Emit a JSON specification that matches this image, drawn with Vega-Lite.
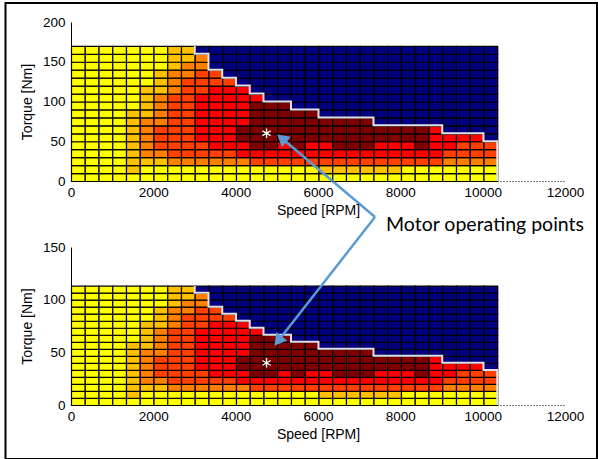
{
"$schema": "https://vega.github.io/schema/vega-lite/v6.json",
"autosize": {"type": "pad"},
"padding": {"left": 4, "top": 1, "right": 0, "bottom": 0},
"background": "#ffffff",
"spacing": 66,
"bounds": "flush",
"config": {
  "view": {"stroke": null},
  "axis": {"labelFont": "Liberation Sans", "labelFontSize": 13.5, "labelColor": "#000", "titleFont": "Liberation Sans", "titleFontSize": 14, "titleFontWeight": "normal", "titleColor": "#000", "ticks": false, "gridDash": [1, 3], "gridColor": "#000", "gridOpacity": 0.8, "domainColor": "#000", "labelFlush": false, "format": "d"}
},
"datasets": {
"cells": [
{"s":0,"a":0,"b":0,"c":"Y"},{"s":0,"a":10,"b":6.67,"c":"Y"},{"s":0,"a":20,"b":13.33,"c":"Y"},{"s":0,"a":30,"b":20,"c":"Y"},{"s":0,"a":40,"b":26.67,"c":"Y"},{"s":0,"a":50,"b":33.33,"c":"Y"},{"s":0,"a":60,"b":40,"c":"Y"},{"s":0,"a":70,"b":46.67,"c":"Y"},{"s":0,"a":80,"b":53.33,"c":"Y"},{"s":0,"a":90,"b":60,"c":"Y"},{"s":0,"a":100,"b":66.67,"c":"Y"},{"s":0,"a":110,"b":73.33,"c":"Y"},{"s":0,"a":120,"b":80,"c":"Y"},{"s":0,"a":130,"b":86.67,"c":"Y"},{"s":0,"a":140,"b":93.33,"c":"Y"},{"s":0,"a":150,"b":100,"c":"Y"},{"s":0,"a":160,"b":106.67,"c":"Y"},
{"s":334,"a":0,"b":0,"c":"Y"},{"s":334,"a":10,"b":6.67,"c":"Y"},{"s":334,"a":20,"b":13.33,"c":"Y"},{"s":334,"a":30,"b":20,"c":"Y"},{"s":334,"a":40,"b":26.67,"c":"Y"},{"s":334,"a":50,"b":33.33,"c":"Y"},{"s":334,"a":60,"b":40,"c":"Y"},{"s":334,"a":70,"b":46.67,"c":"Y"},{"s":334,"a":80,"b":53.33,"c":"Y"},{"s":334,"a":90,"b":60,"c":"Y"},{"s":334,"a":100,"b":66.67,"c":"Y"},{"s":334,"a":110,"b":73.33,"c":"Y"},{"s":334,"a":120,"b":80,"c":"Y"},{"s":334,"a":130,"b":86.67,"c":"Y"},{"s":334,"a":140,"b":93.33,"c":"Y"},{"s":334,"a":150,"b":100,"c":"Y"},{"s":334,"a":160,"b":106.67,"c":"Y"},
{"s":668,"a":0,"b":0,"c":"Y"},{"s":668,"a":10,"b":6.67,"c":"Y"},{"s":668,"a":20,"b":13.33,"c":"Y"},{"s":668,"a":30,"b":20,"c":"Y"},{"s":668,"a":40,"b":26.67,"c":"Y"},{"s":668,"a":50,"b":33.33,"c":"Y"},{"s":668,"a":60,"b":40,"c":"Y"},{"s":668,"a":70,"b":46.67,"c":"Y"},{"s":668,"a":80,"b":53.33,"c":"Y"},{"s":668,"a":90,"b":60,"c":"Y"},{"s":668,"a":100,"b":66.67,"c":"Y"},{"s":668,"a":110,"b":73.33,"c":"Y"},{"s":668,"a":120,"b":80,"c":"Y"},{"s":668,"a":130,"b":86.67,"c":"Y"},{"s":668,"a":140,"b":93.33,"c":"Y"},{"s":668,"a":150,"b":100,"c":"Y"},{"s":668,"a":160,"b":106.67,"c":"Y"},
{"s":1002,"a":0,"b":0,"c":"Y"},{"s":1002,"a":10,"b":6.67,"c":"Y"},{"s":1002,"a":20,"b":13.33,"c":"Y"},{"s":1002,"a":30,"b":20,"c":"Y"},{"s":1002,"a":40,"b":26.67,"c":"Y"},{"s":1002,"a":50,"b":33.33,"c":"Y"},{"s":1002,"a":60,"b":40,"c":"Y"},{"s":1002,"a":70,"b":46.67,"c":"Y"},{"s":1002,"a":80,"b":53.33,"c":"Y"},{"s":1002,"a":90,"b":60,"c":"Y"},{"s":1002,"a":100,"b":66.67,"c":"Y"},{"s":1002,"a":110,"b":73.33,"c":"Y"},{"s":1002,"a":120,"b":80,"c":"Y"},{"s":1002,"a":130,"b":86.67,"c":"Y"},{"s":1002,"a":140,"b":93.33,"c":"Y"},{"s":1002,"a":150,"b":100,"c":"Y"},{"s":1002,"a":160,"b":106.67,"c":"Y"},
{"s":1336,"a":0,"b":0,"c":"Y"},{"s":1336,"a":10,"b":6.67,"c":"A"},{"s":1336,"a":20,"b":13.33,"c":"A"},{"s":1336,"a":30,"b":20,"c":"A"},{"s":1336,"a":40,"b":26.67,"c":"A"},{"s":1336,"a":50,"b":33.33,"c":"A"},{"s":1336,"a":60,"b":40,"c":"A"},{"s":1336,"a":70,"b":46.67,"c":"A"},{"s":1336,"a":80,"b":53.33,"c":"A"},{"s":1336,"a":90,"b":60,"c":"Y"},{"s":1336,"a":100,"b":66.67,"c":"Y"},{"s":1336,"a":110,"b":73.33,"c":"Y"},{"s":1336,"a":120,"b":80,"c":"Y"},{"s":1336,"a":130,"b":86.67,"c":"Y"},{"s":1336,"a":140,"b":93.33,"c":"Y"},{"s":1336,"a":150,"b":100,"c":"Y"},{"s":1336,"a":160,"b":106.67,"c":"Y"},
{"s":1670,"a":0,"b":0,"c":"Y"},{"s":1670,"a":10,"b":6.67,"c":"Y"},{"s":1670,"a":20,"b":13.33,"c":"A"},{"s":1670,"a":30,"b":20,"c":"O"},{"s":1670,"a":40,"b":26.67,"c":"O"},{"s":1670,"a":50,"b":33.33,"c":"O"},{"s":1670,"a":60,"b":40,"c":"O"},{"s":1670,"a":70,"b":46.67,"c":"O"},{"s":1670,"a":80,"b":53.33,"c":"A"},{"s":1670,"a":90,"b":60,"c":"A"},{"s":1670,"a":100,"b":66.67,"c":"A"},{"s":1670,"a":110,"b":73.33,"c":"A"},{"s":1670,"a":120,"b":80,"c":"Y"},{"s":1670,"a":130,"b":86.67,"c":"Y"},{"s":1670,"a":140,"b":93.33,"c":"Y"},{"s":1670,"a":150,"b":100,"c":"Y"},{"s":1670,"a":160,"b":106.67,"c":"Y"},
{"s":2004,"a":0,"b":0,"c":"Y"},{"s":2004,"a":10,"b":6.67,"c":"Y"},{"s":2004,"a":20,"b":13.33,"c":"A"},{"s":2004,"a":30,"b":20,"c":"O"},{"s":2004,"a":40,"b":26.67,"c":"P"},{"s":2004,"a":50,"b":33.33,"c":"P"},{"s":2004,"a":60,"b":40,"c":"P"},{"s":2004,"a":70,"b":46.67,"c":"O"},{"s":2004,"a":80,"b":53.33,"c":"O"},{"s":2004,"a":90,"b":60,"c":"O"},{"s":2004,"a":100,"b":66.67,"c":"O"},{"s":2004,"a":110,"b":73.33,"c":"A"},{"s":2004,"a":120,"b":80,"c":"A"},{"s":2004,"a":130,"b":86.67,"c":"A"},{"s":2004,"a":140,"b":93.33,"c":"Y"},{"s":2004,"a":150,"b":100,"c":"Y"},{"s":2004,"a":160,"b":106.67,"c":"Y"},
{"s":2338,"a":0,"b":0,"c":"Y"},{"s":2338,"a":10,"b":6.67,"c":"Y"},{"s":2338,"a":20,"b":13.33,"c":"O"},{"s":2338,"a":30,"b":20,"c":"P"},{"s":2338,"a":40,"b":26.67,"c":"P"},{"s":2338,"a":50,"b":33.33,"c":"P"},{"s":2338,"a":60,"b":40,"c":"P"},{"s":2338,"a":70,"b":46.67,"c":"P"},{"s":2338,"a":80,"b":53.33,"c":"P"},{"s":2338,"a":90,"b":60,"c":"P"},{"s":2338,"a":100,"b":66.67,"c":"P"},{"s":2338,"a":110,"b":73.33,"c":"O"},{"s":2338,"a":120,"b":80,"c":"O"},{"s":2338,"a":130,"b":86.67,"c":"O"},{"s":2338,"a":140,"b":93.33,"c":"A"},{"s":2338,"a":150,"b":100,"c":"A"},{"s":2338,"a":160,"b":106.67,"c":"A"},
{"s":2672,"a":0,"b":0,"c":"Y"},{"s":2672,"a":10,"b":6.67,"c":"Y"},{"s":2672,"a":20,"b":13.33,"c":"O"},{"s":2672,"a":30,"b":20,"c":"P"},{"s":2672,"a":40,"b":26.67,"c":"P"},{"s":2672,"a":50,"b":33.33,"c":"P"},{"s":2672,"a":60,"b":40,"c":"P"},{"s":2672,"a":70,"b":46.67,"c":"P"},{"s":2672,"a":80,"b":53.33,"c":"P"},{"s":2672,"a":90,"b":60,"c":"P"},{"s":2672,"a":100,"b":66.67,"c":"P"},{"s":2672,"a":110,"b":73.33,"c":"P"},{"s":2672,"a":120,"b":80,"c":"P"},{"s":2672,"a":130,"b":86.67,"c":"O"},{"s":2672,"a":140,"b":93.33,"c":"O"},{"s":2672,"a":150,"b":100,"c":"A"},{"s":2672,"a":160,"b":106.67,"c":"A"},
{"s":3006,"a":0,"b":0,"c":"Y"},{"s":3006,"a":10,"b":6.67,"c":"Y"},{"s":3006,"a":20,"b":13.33,"c":"O"},{"s":3006,"a":30,"b":20,"c":"P"},{"s":3006,"a":40,"b":26.67,"c":"P"},{"s":3006,"a":50,"b":33.33,"c":"R"},{"s":3006,"a":60,"b":40,"c":"R"},{"s":3006,"a":70,"b":46.67,"c":"R"},{"s":3006,"a":80,"b":53.33,"c":"R"},{"s":3006,"a":90,"b":60,"c":"R"},{"s":3006,"a":100,"b":66.67,"c":"R"},{"s":3006,"a":110,"b":73.33,"c":"P"},{"s":3006,"a":120,"b":80,"c":"P"},{"s":3006,"a":130,"b":86.67,"c":"P"},{"s":3006,"a":140,"b":93.33,"c":"O"},{"s":3006,"a":150,"b":100,"c":"O"},{"s":3006,"a":160,"b":106.67,"c":"B"},
{"s":3340,"a":0,"b":0,"c":"Y"},{"s":3340,"a":10,"b":6.67,"c":"Y"},{"s":3340,"a":20,"b":13.33,"c":"O"},{"s":3340,"a":30,"b":20,"c":"P"},{"s":3340,"a":40,"b":26.67,"c":"R"},{"s":3340,"a":50,"b":33.33,"c":"R"},{"s":3340,"a":60,"b":40,"c":"R"},{"s":3340,"a":70,"b":46.67,"c":"R"},{"s":3340,"a":80,"b":53.33,"c":"R"},{"s":3340,"a":90,"b":60,"c":"R"},{"s":3340,"a":100,"b":66.67,"c":"R"},{"s":3340,"a":110,"b":73.33,"c":"R"},{"s":3340,"a":120,"b":80,"c":"P"},{"s":3340,"a":130,"b":86.67,"c":"P"},{"s":3340,"a":140,"b":93.33,"c":"B"},{"s":3340,"a":150,"b":100,"c":"B"},{"s":3340,"a":160,"b":106.67,"c":"B"},
{"s":3674,"a":0,"b":0,"c":"Y"},{"s":3674,"a":10,"b":6.67,"c":"Y"},{"s":3674,"a":20,"b":13.33,"c":"O"},{"s":3674,"a":30,"b":20,"c":"P"},{"s":3674,"a":40,"b":26.67,"c":"R"},{"s":3674,"a":50,"b":33.33,"c":"R"},{"s":3674,"a":60,"b":40,"c":"R"},{"s":3674,"a":70,"b":46.67,"c":"R"},{"s":3674,"a":80,"b":53.33,"c":"R"},{"s":3674,"a":90,"b":60,"c":"R"},{"s":3674,"a":100,"b":66.67,"c":"R"},{"s":3674,"a":110,"b":73.33,"c":"R"},{"s":3674,"a":120,"b":80,"c":"P"},{"s":3674,"a":130,"b":86.67,"c":"B"},{"s":3674,"a":140,"b":93.33,"c":"B"},{"s":3674,"a":150,"b":100,"c":"B"},{"s":3674,"a":160,"b":106.67,"c":"B"},
{"s":4008,"a":0,"b":0,"c":"Y"},{"s":4008,"a":10,"b":6.67,"c":"Y"},{"s":4008,"a":20,"b":13.33,"c":"O"},{"s":4008,"a":30,"b":20,"c":"R"},{"s":4008,"a":40,"b":26.67,"c":"R"},{"s":4008,"a":50,"b":33.33,"c":"D"},{"s":4008,"a":60,"b":40,"c":"D"},{"s":4008,"a":70,"b":46.67,"c":"R"},{"s":4008,"a":80,"b":53.33,"c":"R"},{"s":4008,"a":90,"b":60,"c":"R"},{"s":4008,"a":100,"b":66.67,"c":"R"},{"s":4008,"a":110,"b":73.33,"c":"R"},{"s":4008,"a":120,"b":80,"c":"B"},{"s":4008,"a":130,"b":86.67,"c":"B"},{"s":4008,"a":140,"b":93.33,"c":"B"},{"s":4008,"a":150,"b":100,"c":"B"},{"s":4008,"a":160,"b":106.67,"c":"B"},
{"s":4342,"a":0,"b":0,"c":"Y"},{"s":4342,"a":10,"b":6.67,"c":"Y"},{"s":4342,"a":20,"b":13.33,"c":"P"},{"s":4342,"a":30,"b":20,"c":"R"},{"s":4342,"a":40,"b":26.67,"c":"D"},{"s":4342,"a":50,"b":33.33,"c":"D"},{"s":4342,"a":60,"b":40,"c":"D"},{"s":4342,"a":70,"b":46.67,"c":"D"},{"s":4342,"a":80,"b":53.33,"c":"D"},{"s":4342,"a":90,"b":60,"c":"D"},{"s":4342,"a":100,"b":66.67,"c":"R"},{"s":4342,"a":110,"b":73.33,"c":"B"},{"s":4342,"a":120,"b":80,"c":"B"},{"s":4342,"a":130,"b":86.67,"c":"B"},{"s":4342,"a":140,"b":93.33,"c":"B"},{"s":4342,"a":150,"b":100,"c":"B"},{"s":4342,"a":160,"b":106.67,"c":"B"},
{"s":4676,"a":0,"b":0,"c":"Y"},{"s":4676,"a":10,"b":6.67,"c":"Y"},{"s":4676,"a":20,"b":13.33,"c":"P"},{"s":4676,"a":30,"b":20,"c":"R"},{"s":4676,"a":40,"b":26.67,"c":"D"},{"s":4676,"a":50,"b":33.33,"c":"D"},{"s":4676,"a":60,"b":40,"c":"D"},{"s":4676,"a":70,"b":46.67,"c":"D"},{"s":4676,"a":80,"b":53.33,"c":"D"},{"s":4676,"a":90,"b":60,"c":"D"},{"s":4676,"a":100,"b":66.67,"c":"B"},{"s":4676,"a":110,"b":73.33,"c":"B"},{"s":4676,"a":120,"b":80,"c":"B"},{"s":4676,"a":130,"b":86.67,"c":"B"},{"s":4676,"a":140,"b":93.33,"c":"B"},{"s":4676,"a":150,"b":100,"c":"B"},{"s":4676,"a":160,"b":106.67,"c":"B"},
{"s":5010,"a":0,"b":0,"c":"Y"},{"s":5010,"a":10,"b":6.67,"c":"Y"},{"s":5010,"a":20,"b":13.33,"c":"P"},{"s":5010,"a":30,"b":20,"c":"R"},{"s":5010,"a":40,"b":26.67,"c":"R"},{"s":5010,"a":50,"b":33.33,"c":"D"},{"s":5010,"a":60,"b":40,"c":"D"},{"s":5010,"a":70,"b":46.67,"c":"D"},{"s":5010,"a":80,"b":53.33,"c":"D"},{"s":5010,"a":90,"b":60,"c":"D"},{"s":5010,"a":100,"b":66.67,"c":"B"},{"s":5010,"a":110,"b":73.33,"c":"B"},{"s":5010,"a":120,"b":80,"c":"B"},{"s":5010,"a":130,"b":86.67,"c":"B"},{"s":5010,"a":140,"b":93.33,"c":"B"},{"s":5010,"a":150,"b":100,"c":"B"},{"s":5010,"a":160,"b":106.67,"c":"B"},
{"s":5344,"a":0,"b":0,"c":"Y"},{"s":5344,"a":10,"b":6.67,"c":"Y"},{"s":5344,"a":20,"b":13.33,"c":"P"},{"s":5344,"a":30,"b":20,"c":"R"},{"s":5344,"a":40,"b":26.67,"c":"D"},{"s":5344,"a":50,"b":33.33,"c":"D"},{"s":5344,"a":60,"b":40,"c":"D"},{"s":5344,"a":70,"b":46.67,"c":"D"},{"s":5344,"a":80,"b":53.33,"c":"D"},{"s":5344,"a":90,"b":60,"c":"B"},{"s":5344,"a":100,"b":66.67,"c":"B"},{"s":5344,"a":110,"b":73.33,"c":"B"},{"s":5344,"a":120,"b":80,"c":"B"},{"s":5344,"a":130,"b":86.67,"c":"B"},{"s":5344,"a":140,"b":93.33,"c":"B"},{"s":5344,"a":150,"b":100,"c":"B"},{"s":5344,"a":160,"b":106.67,"c":"B"},
{"s":5678,"a":0,"b":0,"c":"Y"},{"s":5678,"a":10,"b":6.67,"c":"Y"},{"s":5678,"a":20,"b":13.33,"c":"P"},{"s":5678,"a":30,"b":20,"c":"R"},{"s":5678,"a":40,"b":26.67,"c":"R"},{"s":5678,"a":50,"b":33.33,"c":"D"},{"s":5678,"a":60,"b":40,"c":"D"},{"s":5678,"a":70,"b":46.67,"c":"D"},{"s":5678,"a":80,"b":53.33,"c":"D"},{"s":5678,"a":90,"b":60,"c":"B"},{"s":5678,"a":100,"b":66.67,"c":"B"},{"s":5678,"a":110,"b":73.33,"c":"B"},{"s":5678,"a":120,"b":80,"c":"B"},{"s":5678,"a":130,"b":86.67,"c":"B"},{"s":5678,"a":140,"b":93.33,"c":"B"},{"s":5678,"a":150,"b":100,"c":"B"},{"s":5678,"a":160,"b":106.67,"c":"B"},
{"s":6012,"a":0,"b":0,"c":"Y"},{"s":6012,"a":10,"b":6.67,"c":"A"},{"s":6012,"a":20,"b":13.33,"c":"P"},{"s":6012,"a":30,"b":20,"c":"R"},{"s":6012,"a":40,"b":26.67,"c":"R"},{"s":6012,"a":50,"b":33.33,"c":"D"},{"s":6012,"a":60,"b":40,"c":"D"},{"s":6012,"a":70,"b":46.67,"c":"D"},{"s":6012,"a":80,"b":53.33,"c":"B"},{"s":6012,"a":90,"b":60,"c":"B"},{"s":6012,"a":100,"b":66.67,"c":"B"},{"s":6012,"a":110,"b":73.33,"c":"B"},{"s":6012,"a":120,"b":80,"c":"B"},{"s":6012,"a":130,"b":86.67,"c":"B"},{"s":6012,"a":140,"b":93.33,"c":"B"},{"s":6012,"a":150,"b":100,"c":"B"},{"s":6012,"a":160,"b":106.67,"c":"B"},
{"s":6346,"a":0,"b":0,"c":"Y"},{"s":6346,"a":10,"b":6.67,"c":"A"},{"s":6346,"a":20,"b":13.33,"c":"P"},{"s":6346,"a":30,"b":20,"c":"R"},{"s":6346,"a":40,"b":26.67,"c":"D"},{"s":6346,"a":50,"b":33.33,"c":"D"},{"s":6346,"a":60,"b":40,"c":"D"},{"s":6346,"a":70,"b":46.67,"c":"D"},{"s":6346,"a":80,"b":53.33,"c":"B"},{"s":6346,"a":90,"b":60,"c":"B"},{"s":6346,"a":100,"b":66.67,"c":"B"},{"s":6346,"a":110,"b":73.33,"c":"B"},{"s":6346,"a":120,"b":80,"c":"B"},{"s":6346,"a":130,"b":86.67,"c":"B"},{"s":6346,"a":140,"b":93.33,"c":"B"},{"s":6346,"a":150,"b":100,"c":"B"},{"s":6346,"a":160,"b":106.67,"c":"B"},
{"s":6680,"a":0,"b":0,"c":"Y"},{"s":6680,"a":10,"b":6.67,"c":"A"},{"s":6680,"a":20,"b":13.33,"c":"P"},{"s":6680,"a":30,"b":20,"c":"R"},{"s":6680,"a":40,"b":26.67,"c":"D"},{"s":6680,"a":50,"b":33.33,"c":"D"},{"s":6680,"a":60,"b":40,"c":"D"},{"s":6680,"a":70,"b":46.67,"c":"D"},{"s":6680,"a":80,"b":53.33,"c":"B"},{"s":6680,"a":90,"b":60,"c":"B"},{"s":6680,"a":100,"b":66.67,"c":"B"},{"s":6680,"a":110,"b":73.33,"c":"B"},{"s":6680,"a":120,"b":80,"c":"B"},{"s":6680,"a":130,"b":86.67,"c":"B"},{"s":6680,"a":140,"b":93.33,"c":"B"},{"s":6680,"a":150,"b":100,"c":"B"},{"s":6680,"a":160,"b":106.67,"c":"B"},
{"s":7014,"a":0,"b":0,"c":"Y"},{"s":7014,"a":10,"b":6.67,"c":"A"},{"s":7014,"a":20,"b":13.33,"c":"P"},{"s":7014,"a":30,"b":20,"c":"R"},{"s":7014,"a":40,"b":26.67,"c":"D"},{"s":7014,"a":50,"b":33.33,"c":"D"},{"s":7014,"a":60,"b":40,"c":"D"},{"s":7014,"a":70,"b":46.67,"c":"D"},{"s":7014,"a":80,"b":53.33,"c":"B"},{"s":7014,"a":90,"b":60,"c":"B"},{"s":7014,"a":100,"b":66.67,"c":"B"},{"s":7014,"a":110,"b":73.33,"c":"B"},{"s":7014,"a":120,"b":80,"c":"B"},{"s":7014,"a":130,"b":86.67,"c":"B"},{"s":7014,"a":140,"b":93.33,"c":"B"},{"s":7014,"a":150,"b":100,"c":"B"},{"s":7014,"a":160,"b":106.67,"c":"B"},
{"s":7348,"a":0,"b":0,"c":"Y"},{"s":7348,"a":10,"b":6.67,"c":"A"},{"s":7348,"a":20,"b":13.33,"c":"P"},{"s":7348,"a":30,"b":20,"c":"R"},{"s":7348,"a":40,"b":26.67,"c":"R"},{"s":7348,"a":50,"b":33.33,"c":"D"},{"s":7348,"a":60,"b":40,"c":"D"},{"s":7348,"a":70,"b":46.67,"c":"B"},{"s":7348,"a":80,"b":53.33,"c":"B"},{"s":7348,"a":90,"b":60,"c":"B"},{"s":7348,"a":100,"b":66.67,"c":"B"},{"s":7348,"a":110,"b":73.33,"c":"B"},{"s":7348,"a":120,"b":80,"c":"B"},{"s":7348,"a":130,"b":86.67,"c":"B"},{"s":7348,"a":140,"b":93.33,"c":"B"},{"s":7348,"a":150,"b":100,"c":"B"},{"s":7348,"a":160,"b":106.67,"c":"B"},
{"s":7682,"a":0,"b":0,"c":"Y"},{"s":7682,"a":10,"b":6.67,"c":"A"},{"s":7682,"a":20,"b":13.33,"c":"P"},{"s":7682,"a":30,"b":20,"c":"R"},{"s":7682,"a":40,"b":26.67,"c":"R"},{"s":7682,"a":50,"b":33.33,"c":"D"},{"s":7682,"a":60,"b":40,"c":"D"},{"s":7682,"a":70,"b":46.67,"c":"B"},{"s":7682,"a":80,"b":53.33,"c":"B"},{"s":7682,"a":90,"b":60,"c":"B"},{"s":7682,"a":100,"b":66.67,"c":"B"},{"s":7682,"a":110,"b":73.33,"c":"B"},{"s":7682,"a":120,"b":80,"c":"B"},{"s":7682,"a":130,"b":86.67,"c":"B"},{"s":7682,"a":140,"b":93.33,"c":"B"},{"s":7682,"a":150,"b":100,"c":"B"},{"s":7682,"a":160,"b":106.67,"c":"B"},
{"s":8016,"a":0,"b":0,"c":"Y"},{"s":8016,"a":10,"b":6.67,"c":"Y"},{"s":8016,"a":20,"b":13.33,"c":"P"},{"s":8016,"a":30,"b":20,"c":"R"},{"s":8016,"a":40,"b":26.67,"c":"R"},{"s":8016,"a":50,"b":33.33,"c":"D"},{"s":8016,"a":60,"b":40,"c":"D"},{"s":8016,"a":70,"b":46.67,"c":"B"},{"s":8016,"a":80,"b":53.33,"c":"B"},{"s":8016,"a":90,"b":60,"c":"B"},{"s":8016,"a":100,"b":66.67,"c":"B"},{"s":8016,"a":110,"b":73.33,"c":"B"},{"s":8016,"a":120,"b":80,"c":"B"},{"s":8016,"a":130,"b":86.67,"c":"B"},{"s":8016,"a":140,"b":93.33,"c":"B"},{"s":8016,"a":150,"b":100,"c":"B"},{"s":8016,"a":160,"b":106.67,"c":"B"},
{"s":8350,"a":0,"b":0,"c":"Y"},{"s":8350,"a":10,"b":6.67,"c":"Y"},{"s":8350,"a":20,"b":13.33,"c":"P"},{"s":8350,"a":30,"b":20,"c":"R"},{"s":8350,"a":40,"b":26.67,"c":"D"},{"s":8350,"a":50,"b":33.33,"c":"D"},{"s":8350,"a":60,"b":40,"c":"D"},{"s":8350,"a":70,"b":46.67,"c":"B"},{"s":8350,"a":80,"b":53.33,"c":"B"},{"s":8350,"a":90,"b":60,"c":"B"},{"s":8350,"a":100,"b":66.67,"c":"B"},{"s":8350,"a":110,"b":73.33,"c":"B"},{"s":8350,"a":120,"b":80,"c":"B"},{"s":8350,"a":130,"b":86.67,"c":"B"},{"s":8350,"a":140,"b":93.33,"c":"B"},{"s":8350,"a":150,"b":100,"c":"B"},{"s":8350,"a":160,"b":106.67,"c":"B"},
{"s":8684,"a":0,"b":0,"c":"Y"},{"s":8684,"a":10,"b":6.67,"c":"Y"},{"s":8684,"a":20,"b":13.33,"c":"P"},{"s":8684,"a":30,"b":20,"c":"R"},{"s":8684,"a":40,"b":26.67,"c":"R"},{"s":8684,"a":50,"b":33.33,"c":"R"},{"s":8684,"a":60,"b":40,"c":"R"},{"s":8684,"a":70,"b":46.67,"c":"B"},{"s":8684,"a":80,"b":53.33,"c":"B"},{"s":8684,"a":90,"b":60,"c":"B"},{"s":8684,"a":100,"b":66.67,"c":"B"},{"s":8684,"a":110,"b":73.33,"c":"B"},{"s":8684,"a":120,"b":80,"c":"B"},{"s":8684,"a":130,"b":86.67,"c":"B"},{"s":8684,"a":140,"b":93.33,"c":"B"},{"s":8684,"a":150,"b":100,"c":"B"},{"s":8684,"a":160,"b":106.67,"c":"B"},
{"s":9018,"a":0,"b":0,"c":"Y"},{"s":9018,"a":10,"b":6.67,"c":"Y"},{"s":9018,"a":20,"b":13.33,"c":"O"},{"s":9018,"a":30,"b":20,"c":"P"},{"s":9018,"a":40,"b":26.67,"c":"R"},{"s":9018,"a":50,"b":33.33,"c":"R"},{"s":9018,"a":60,"b":40,"c":"B"},{"s":9018,"a":70,"b":46.67,"c":"B"},{"s":9018,"a":80,"b":53.33,"c":"B"},{"s":9018,"a":90,"b":60,"c":"B"},{"s":9018,"a":100,"b":66.67,"c":"B"},{"s":9018,"a":110,"b":73.33,"c":"B"},{"s":9018,"a":120,"b":80,"c":"B"},{"s":9018,"a":130,"b":86.67,"c":"B"},{"s":9018,"a":140,"b":93.33,"c":"B"},{"s":9018,"a":150,"b":100,"c":"B"},{"s":9018,"a":160,"b":106.67,"c":"B"},
{"s":9352,"a":0,"b":0,"c":"Y"},{"s":9352,"a":10,"b":6.67,"c":"Y"},{"s":9352,"a":20,"b":13.33,"c":"O"},{"s":9352,"a":30,"b":20,"c":"P"},{"s":9352,"a":40,"b":26.67,"c":"P"},{"s":9352,"a":50,"b":33.33,"c":"R"},{"s":9352,"a":60,"b":40,"c":"B"},{"s":9352,"a":70,"b":46.67,"c":"B"},{"s":9352,"a":80,"b":53.33,"c":"B"},{"s":9352,"a":90,"b":60,"c":"B"},{"s":9352,"a":100,"b":66.67,"c":"B"},{"s":9352,"a":110,"b":73.33,"c":"B"},{"s":9352,"a":120,"b":80,"c":"B"},{"s":9352,"a":130,"b":86.67,"c":"B"},{"s":9352,"a":140,"b":93.33,"c":"B"},{"s":9352,"a":150,"b":100,"c":"B"},{"s":9352,"a":160,"b":106.67,"c":"B"},
{"s":9686,"a":0,"b":0,"c":"Y"},{"s":9686,"a":10,"b":6.67,"c":"Y"},{"s":9686,"a":20,"b":13.33,"c":"O"},{"s":9686,"a":30,"b":20,"c":"P"},{"s":9686,"a":40,"b":26.67,"c":"P"},{"s":9686,"a":50,"b":33.33,"c":"R"},{"s":9686,"a":60,"b":40,"c":"B"},{"s":9686,"a":70,"b":46.67,"c":"B"},{"s":9686,"a":80,"b":53.33,"c":"B"},{"s":9686,"a":90,"b":60,"c":"B"},{"s":9686,"a":100,"b":66.67,"c":"B"},{"s":9686,"a":110,"b":73.33,"c":"B"},{"s":9686,"a":120,"b":80,"c":"B"},{"s":9686,"a":130,"b":86.67,"c":"B"},{"s":9686,"a":140,"b":93.33,"c":"B"},{"s":9686,"a":150,"b":100,"c":"B"},{"s":9686,"a":160,"b":106.67,"c":"B"},
{"s":10020,"a":0,"b":0,"c":"Y"},{"s":10020,"a":10,"b":6.67,"c":"Y"},{"s":10020,"a":20,"b":13.33,"c":"O"},{"s":10020,"a":30,"b":20,"c":"P"},{"s":10020,"a":40,"b":26.67,"c":"P"},{"s":10020,"a":50,"b":33.33,"c":"B"},{"s":10020,"a":60,"b":40,"c":"B"},{"s":10020,"a":70,"b":46.67,"c":"B"},{"s":10020,"a":80,"b":53.33,"c":"B"},{"s":10020,"a":90,"b":60,"c":"B"},{"s":10020,"a":100,"b":66.67,"c":"B"},{"s":10020,"a":110,"b":73.33,"c":"B"},{"s":10020,"a":120,"b":80,"c":"B"},{"s":10020,"a":130,"b":86.67,"c":"B"},{"s":10020,"a":140,"b":93.33,"c":"B"},{"s":10020,"a":150,"b":100,"c":"B"},{"s":10020,"a":160,"b":106.67,"c":"B"}
],
"envelope": [
{"k":0,"s":3006,"a":170,"b":113.33},{"k":1,"s":3006,"a":160,"b":106.67},{"k":2,"s":3340,"a":140,"b":93.33},{"k":3,"s":3674,"a":130,"b":86.67},{"k":4,"s":4008,"a":120,"b":80},{"k":5,"s":4342,"a":110,"b":73.33},{"k":6,"s":4676,"a":100,"b":66.67},{"k":7,"s":5344,"a":90,"b":60},{"k":8,"s":6012,"a":80,"b":53.33},{"k":9,"s":7348,"a":70,"b":46.67},{"k":10,"s":9018,"a":60,"b":40},{"k":11,"s":10020,"a":50,"b":33.33},{"k":12,"s":10354,"a":50,"b":33.33},{"k":13,"s":10354,"a":0,"b":0}
],
"marker": [{"s":4750,"a":60,"b":40}],
"arrows": [
{"p":"top","s":7385,"a":-45.3,"s2":5121,"a2":53.8},
{"p":"bottom","s":7385,"b":178.5,"s2":5031,"b2":60.7}
],
"note": [{"s":7652,"a":-55.5,"label":"Motor operating points"}],
"frame": [{"s":-1591,"a":223.9,"s2":12777,"a2":-349.7}]
},
"vconcat": [
{
"width": 494, "height": 159,
"layer": [
{"data": {"name": "cells"},
 "mark": {"type": "rect", "stroke": "#000", "strokeWidth": 1.2},
 "encoding": {
  "x": {"field": "s", "type": "quantitative", "bin": {"binned": true, "step": 334}, "title": "Speed [RPM]", "scale": {"domain": [0, 12000], "nice": false, "zero": false}, "axis": {"values": [0, 2000, 4000, 6000, 8000, 10000, 12000], "format": "d", "labelPadding": 4, "titlePadding": 5, "titleFontWeight": "normal", "domainDash": [1, 2]}},
  "y": {"field": "a", "type": "quantitative", "bin": {"binned": true, "step": 10}, "title": "Torque [Nm]", "scale": {"domain": [0, 200], "nice": false}, "axis": {"values": [0, 50, 100, 150, 200], "format": "d", "labelPadding": 6, "titlePadding": 8, "titleFontWeight": "normal"}},
  "color": {"field": "c", "type": "nominal", "scale": {"domain": ["Y", "A", "O", "P", "R", "D", "B"], "range": ["#FFFF00", "#FFC000", "#FF8000", "#FF4000", "#FF0000", "#800000", "#000080"]}, "legend": null}
 }},
{"data": {"name": "envelope"},
 "mark": {"type": "line", "interpolate": "step-after", "color": "#E2E2E2", "strokeWidth": 2},
 "encoding": {"x": {"field": "s", "type": "quantitative"}, "y": {"field": "a", "type": "quantitative"}, "order": {"field": "k", "type": "quantitative"}}},
{"data": {"name": "marker"},
 "mark": {"type": "point", "shape": "M0,-1L0,1M-0.87,-0.5L0.87,0.5M-0.87,0.5L0.87,-0.5", "stroke": "#ffffff", "strokeWidth": 1.3, "size": 90, "filled": false, "opacity": 1},
 "encoding": {"x": {"field": "s", "type": "quantitative"}, "y": {"field": "a", "type": "quantitative"}}},
{"data": {"name": "arrows"},
 "transform": [{"filter": "datum.p === 'top'"}],
 "mark": {"type": "rule", "color": "#5B9BD5", "strokeWidth": 2.5},
 "encoding": {"x": {"field": "s", "type": "quantitative"}, "y": {"field": "a", "type": "quantitative"}, "x2": {"field": "s2"}, "y2": {"field": "a2"}}},
{"data": {"name": "arrows"},
 "transform": [{"filter": "datum.p === 'top'"}],
 "mark": {"type": "point", "shape": "triangle-up", "filled": true, "color": "#5B9BD5", "size": 190, "opacity": 1, "angle": 310},
 "encoding": {"x": {"field": "s2", "type": "quantitative"}, "y": {"field": "a2", "type": "quantitative"}}},
{"data": {"name": "note"},
 "mark": {"type": "text", "font": "Lato", "fontSize": 19.5, "align": "left", "baseline": "middle", "color": "#000"},
 "encoding": {"x": {"field": "s", "type": "quantitative"}, "y": {"field": "a", "type": "quantitative"}, "text": {"field": "label"}}},
{"data": {"name": "frame"},
 "mark": {"type": "rect", "fillOpacity": 0, "stroke": "#000", "strokeWidth": 2},
 "encoding": {"x": {"field": "s", "type": "quantitative"}, "x2": {"field": "s2"}, "y": {"field": "a", "type": "quantitative"}, "y2": {"field": "a2"}}}
]
},
{
"width": 494, "height": 158,
"layer": [
{"data": {"name": "cells"},
 "mark": {"type": "rect", "stroke": "#000", "strokeWidth": 1.2},
 "encoding": {
  "x": {"field": "s", "type": "quantitative", "bin": {"binned": true, "step": 334}, "title": "Speed [RPM]", "scale": {"domain": [0, 12000], "nice": false, "zero": false}, "axis": {"values": [0, 2000, 4000, 6000, 8000, 10000, 12000], "format": "d", "labelPadding": 4, "titlePadding": 5, "titleFontWeight": "normal", "domainDash": [1, 2]}},
  "y": {"field": "b", "type": "quantitative", "bin": {"binned": true, "step": 6.6667}, "title": "Torque [Nm]", "scale": {"domain": [0, 150], "nice": false}, "axis": {"values": [0, 50, 100, 150], "format": "d", "labelPadding": 6, "titlePadding": 8, "titleFontWeight": "normal"}},
  "color": {"field": "c", "type": "nominal", "scale": {"domain": ["Y", "A", "O", "P", "R", "D", "B"], "range": ["#FFFF00", "#FFC000", "#FF8000", "#FF4000", "#FF0000", "#800000", "#000080"]}, "legend": null}
 }},
{"data": {"name": "envelope"},
 "mark": {"type": "line", "interpolate": "step-after", "color": "#E2E2E2", "strokeWidth": 2},
 "encoding": {"x": {"field": "s", "type": "quantitative"}, "y": {"field": "b", "type": "quantitative"}, "order": {"field": "k", "type": "quantitative"}}},
{"data": {"name": "marker"},
 "mark": {"type": "point", "shape": "M0,-1L0,1M-0.87,-0.5L0.87,0.5M-0.87,0.5L0.87,-0.5", "stroke": "#ffffff", "strokeWidth": 1.3, "size": 90, "filled": false, "opacity": 1},
 "encoding": {"x": {"field": "s", "type": "quantitative"}, "y": {"field": "b", "type": "quantitative"}}},
{"data": {"name": "arrows"},
 "transform": [{"filter": "datum.p === 'bottom'"}],
 "mark": {"type": "rule", "color": "#5B9BD5", "strokeWidth": 2.5},
 "encoding": {"x": {"field": "s", "type": "quantitative"}, "y": {"field": "b", "type": "quantitative"}, "x2": {"field": "s2"}, "y2": {"field": "b2"}}},
{"data": {"name": "arrows"},
 "transform": [{"filter": "datum.p === 'bottom'"}],
 "mark": {"type": "point", "shape": "triangle-up", "filled": true, "color": "#5B9BD5", "size": 190, "opacity": 1, "angle": 218},
 "encoding": {"x": {"field": "s2", "type": "quantitative"}, "y": {"field": "b2", "type": "quantitative"}}}
]
}
]
}
